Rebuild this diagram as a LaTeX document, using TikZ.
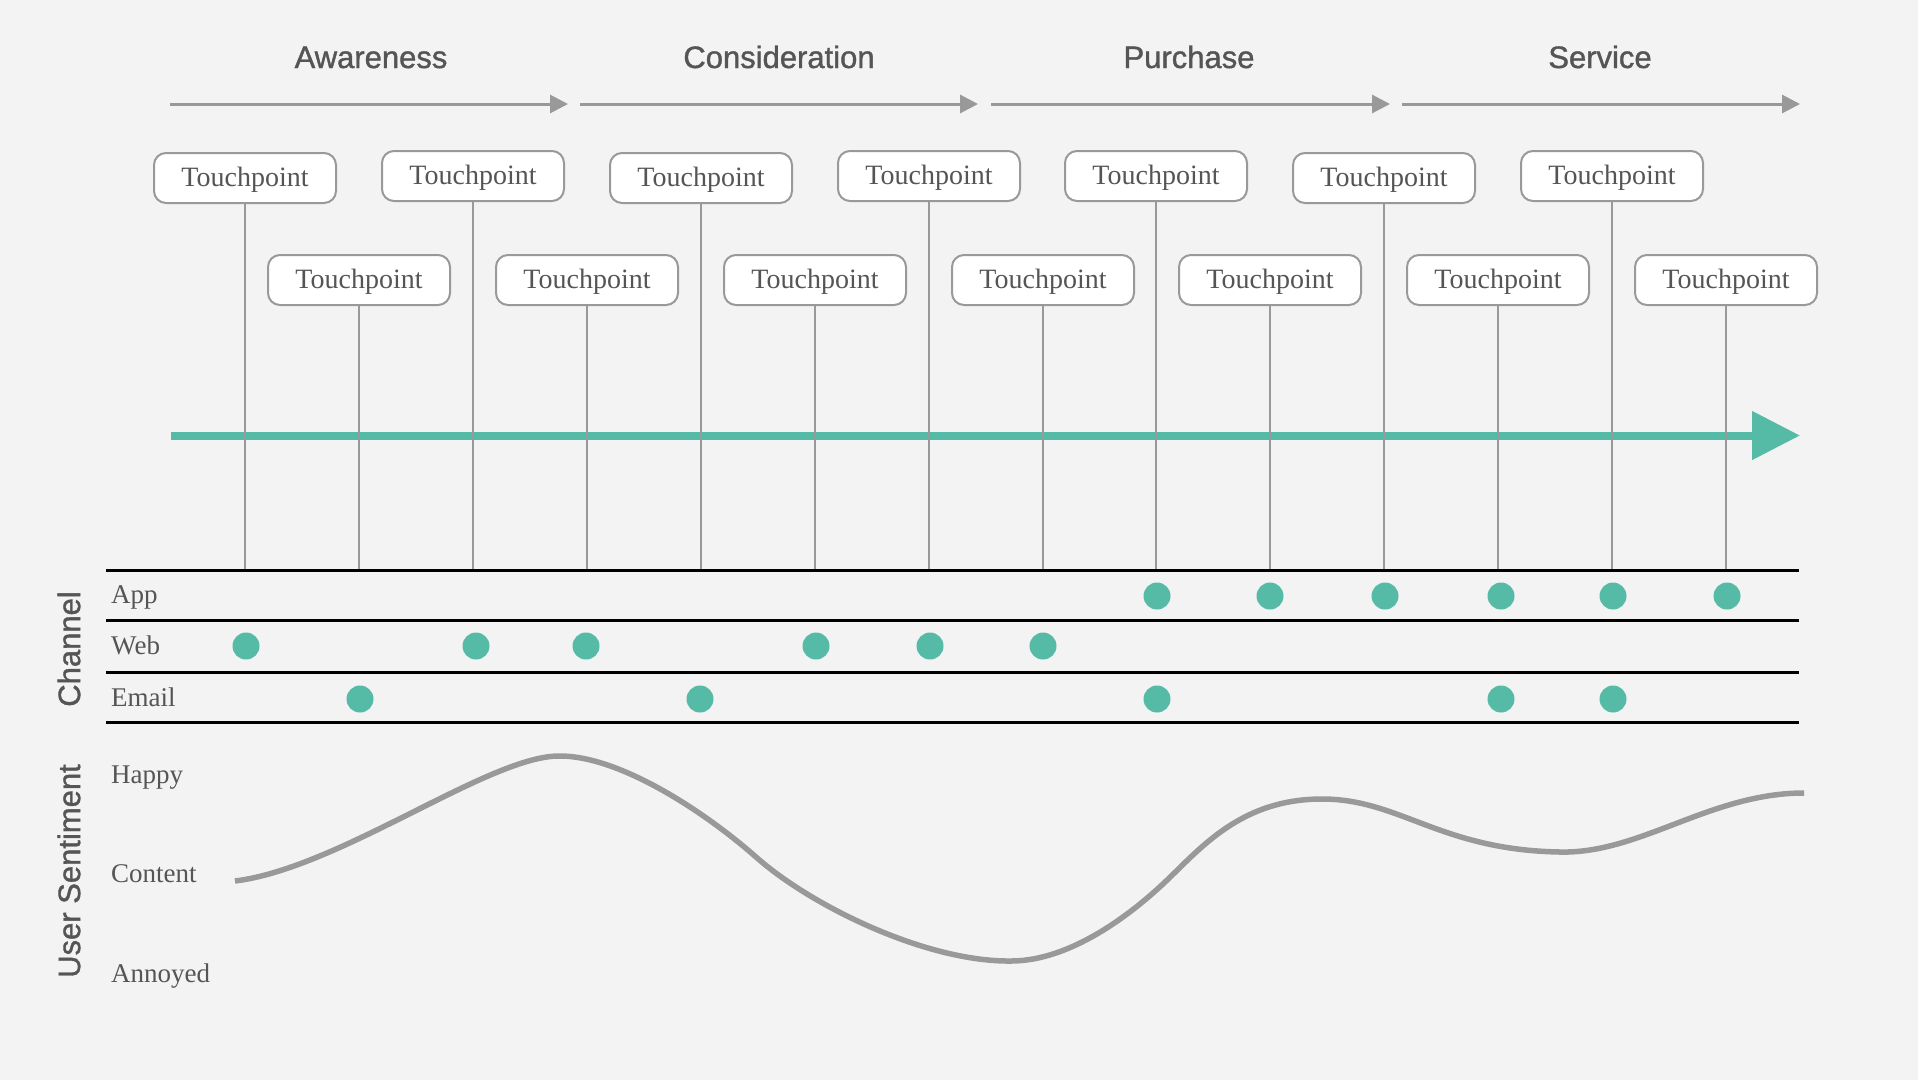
\documentclass[tikz,border=0pt]{standalone}
\usepackage{fontspec}
\setmainfont{Liberation Serif}
\setsansfont{Liberation Sans}
\newfontfamily\medsans[FakeBold=1.2]{Liberation Sans}
\usetikzlibrary{arrows.meta}
\definecolor{bg}{HTML}{F3F3F3}
\definecolor{teal1}{HTML}{56BBA6}
\definecolor{lgray}{HTML}{999999}
\definecolor{tgray}{HTML}{555555}
\begin{document}
\begin{tikzpicture}[x=1pt,y=-1pt,
  tpbox/.style={draw=lgray, line width=2pt, fill=white, rounded corners=12pt,
    minimum width=182pt, minimum height=50pt, inner sep=0pt, text height=20pt, text depth=4pt,
    font=\fontsize{28}{30}\selectfont, text=tgray},
  phase/.style={font=\medsans\fontsize{31}{34}\selectfont, text=tgray, anchor=base},
  phasearrow/.style={draw=lgray, line width=3pt, -{Triangle[length=18pt,width=18pt]}},
  vline/.style={draw=lgray, line width=2pt},
  hline/.style={draw=black, line width=3pt},
  rowlabel/.style={font=\fontsize{27}{29}\selectfont, text=tgray, anchor=base west, inner sep=0pt},
  sidelabel/.style={font=\medsans\fontsize{31}{34}\selectfont, text=tgray, rotate=90},
  dot/.style={circle, fill=teal1, inner sep=0pt, minimum size=27pt},
  mainarrow/.style={draw=teal1, line width=8pt, -{Triangle[length=48pt,width=47pt]}},
  curveline/.style={draw=lgray, line width=5.5pt}
]
\fill[bg] (0,0) rectangle (1918,1080);
\useasboundingbox (0,0) rectangle (1918,1080);

% phases
\node[phase] (ph1) at (371,68) {Awareness};
\node[phase] (ph2) at (779,68) {Consideration};
\node[phase] (ph3) at (1189,68) {Purchase};
\node[phase] (ph4) at (1600,68) {Service};
\coordinate (a1s) at (170,104); \coordinate (a1e) at (568,104);
\coordinate (a2s) at (580,104); \coordinate (a2e) at (978,104);
\coordinate (a3s) at (991,104); \coordinate (a3e) at (1390,104);
\coordinate (a4s) at (1402,104); \coordinate (a4e) at (1800,104);
\draw[phasearrow] (a1s) -- (a1e);
\draw[phasearrow] (a2s) -- (a2e);
\draw[phasearrow] (a3s) -- (a3e);
\draw[phasearrow] (a4s) -- (a4e);

% main timeline arrow
\coordinate (t0) at (171,435.5);
\coordinate (t1) at (1800,435.5);
\draw[mainarrow] (t0) -- (t1);

% touchpoints
\foreach \k/\x/\y in {0/245/178, 1/359/280, 2/473/176, 3/587/280, 4/701/178, 5/815/280, 6/929/176,
  7/1043/280, 8/1156/176, 9/1270/280, 10/1384/178, 11/1498/280, 12/1612/176, 13/1726/280} {
  \coordinate (b\k) at (\x,570);
  \draw[vline] (\x,\y) -- (b\k);
  \node[tpbox] (tp\k) at (\x,\y) {Touchpoint};
}

% channel grid
\coordinate (h1l) at (106,570); \coordinate (h1r) at (1799,570);
\coordinate (h2l) at (106,620); \coordinate (h2r) at (1799,620);
\coordinate (h3l) at (106,672); \coordinate (h3r) at (1799,672);
\coordinate (h4l) at (106,722); \coordinate (h4r) at (1799,722);
\draw[hline] (h1l) -- (h1r);
\draw[hline] (h2l) -- (h2r);
\draw[hline] (h3l) -- (h3r);
\draw[hline] (h4l) -- (h4r);

\node[rowlabel] (lapp) at (111,603) {App};
\node[rowlabel] (lweb) at (111,654) {Web};
\node[rowlabel] (lemail) at (111,706) {Email};
\node[sidelabel] (chan) at (69,649) {Channel};

\foreach \x [count=\i] in {1157,1270,1385,1501,1613,1727} \node[dot] (app\i) at (\x,596) {};
\foreach \x [count=\i] in {246,476,586,816,930,1043} \node[dot] (web\i) at (\x,646) {};
\foreach \x [count=\i] in {360,700,1157,1501,1613} \node[dot] (mail\i) at (\x,699) {};

% sentiment
\node[rowlabel] (lhappy) at (111,783) {Happy};
\node[rowlabel] (lcontent) at (111,882) {Content};
\node[rowlabel] (lannoyed) at (111,982) {Annoyed};
\node[sidelabel] (sent) at (69,871) {User Sentiment};

\draw[curveline] (235,881) .. controls (340,868) and (490,755) .. (560,756)
  .. controls (620,756) and (705,812) .. (756,857)
  .. controls (810,905) and (925,962) .. (1011,961)
  .. controls (1070,961) and (1130,915) .. (1164,883)
  .. controls (1200,849) and (1240,799) .. (1322,799)
  .. controls (1400,799) and (1440,850) .. (1560,852)
  .. controls (1640,854) and (1710,793) .. (1804,793);
\end{tikzpicture}
\end{document}
